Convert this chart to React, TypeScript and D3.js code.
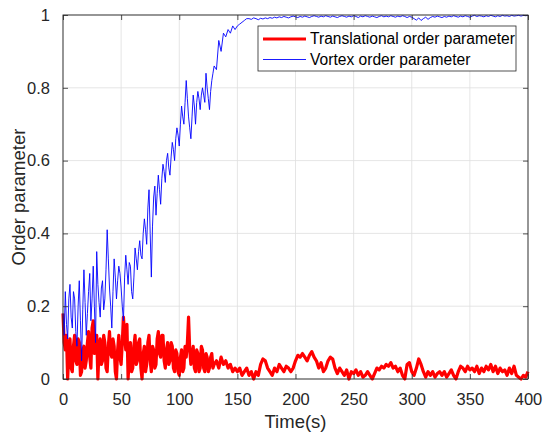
import * as d3 from 'd3';
import React, { useRef, useEffect } from 'react';

// early part sampled every 1 s (t = 0..130), later part every 2 s (t = 132..400)
const earlyStep = 1;
const lateStart = 132;
const lateStep = 2;

// translational order parameter
const translationalEarly = [
  0.18, 0.1, 0.08, 0.12, 0.0, 0.07, 0.11, 0.03, 0.02, 0.09,
  0.12, 0.05, 0.04, 0.11, 0.1, 0.01, 0.02, 0.08, 0.09, 0.03,
  0.05, 0.1, 0.13, 0.06, 0.03, 0.14, 0.16, 0.07, 0.1, 0.12,
  0.0, 0.08, 0.11, 0.04, 0.05, 0.12, 0.1, 0.03, 0.02, 0.09,
  0.13, 0.07, 0.06, 0.11, 0.09, 0.02, 0.0, 0.08, 0.12, 0.06,
  0.04, 0.1, 0.17, 0.12, 0.08, 0.15, 0.0, 0.06, 0.1, 0.02,
  0.03, 0.09, 0.12, 0.04, 0.05, 0.1, 0.11, 0.03, 0.0, 0.07,
  0.09, 0.02, 0.04, 0.1, 0.12, 0.05, 0.02, 0.09, 0.08, 0.03,
  0.04, 0.11, 0.13, 0.07, 0.06, 0.12, 0.12, 0.05, 0.03, 0.08,
  0.1, 0.04, 0.05, 0.1, 0.09, 0.03, 0.02, 0.08, 0.07, 0.02,
  0.01, 0.06, 0.08, 0.02, 0.03, 0.09, 0.06, 0.1, 0.17, 0.08,
  0.04, 0.07, 0.09, 0.03, 0.02, 0.08, 0.07, 0.02, 0.03, 0.09,
  0.08, 0.03, 0.02, 0.07, 0.06, 0.02, 0.03, 0.06, 0.07, 0.03,
  0.04,
];
const translationalLate = [
  0.05, 0.03, 0.06, 0.04,
  0.05, 0.03, 0.04, 0.02, 0.03, 0.02, 0.03, 0.01, 0.02, 0.03,
  0.01, 0.02, 0.0, 0.02, 0.01, 0.04, 0.055, 0.05, 0.03, 0.02,
  0.01, 0.03, 0.02, 0.04, 0.03, 0.02, 0.035, 0.03, 0.02, 0.03,
  0.05, 0.065, 0.06, 0.07, 0.06, 0.05, 0.065, 0.075, 0.06, 0.05,
  0.03, 0.045, 0.02, 0.03, 0.05, 0.06, 0.055, 0.03, 0.015, 0.03,
  0.02, 0.01, 0.025, 0.0, 0.02, 0.015, 0.025, 0.01, 0.02, 0.005,
  0.01, 0.02, 0.01, 0.0, 0.015, 0.03, 0.025, 0.035, 0.03, 0.04,
  0.035, 0.045, 0.03, 0.035, 0.02, 0.03, 0.01, 0.0, 0.04, 0.045,
  0.02, 0.01, 0.03, 0.055, 0.04, 0.02, 0.005, 0.02, 0.01, 0.02,
  0.005, 0.015, 0.02, 0.01, 0.02, 0.005, 0.015, 0.025, 0.01, 0.0,
  0.02, 0.035, 0.03, 0.02, 0.035, 0.025, 0.03, 0.02, 0.035, 0.015,
  0.03, 0.02, 0.035, 0.025, 0.04, 0.02, 0.035, 0.015, 0.03, 0.02,
  0.025, 0.01, 0.03, 0.015, 0.035, 0.01, 0.005, 0.0, 0.01, 0.005,
  0.02,
];

// vortex order parameter
const vortexEarly = [
  0.18, 0.12, 0.24, 0.15, 0.11, 0.22, 0.26, 0.17, 0.14, 0.24,
  0.22, 0.13, 0.09, 0.2, 0.27, 0.16, 0.05, 0.19, 0.3, 0.21,
  0.12, 0.18, 0.24, 0.29, 0.16, 0.22, 0.31, 0.2, 0.1, 0.35,
  0.26, 0.21, 0.17, 0.25, 0.27, 0.19, 0.22, 0.3, 0.41, 0.33,
  0.25, 0.2, 0.14, 0.24, 0.33, 0.28, 0.22, 0.27, 0.31, 0.29,
  0.25, 0.2, 0.16, 0.28, 0.34, 0.3, 0.26, 0.32, 0.31, 0.24,
  0.22, 0.28, 0.36, 0.33, 0.3, 0.35, 0.38, 0.34, 0.33, 0.4,
  0.44, 0.41, 0.37, 0.47, 0.52, 0.4, 0.28, 0.42, 0.5, 0.53,
  0.45, 0.51, 0.56, 0.52, 0.48, 0.55, 0.59, 0.57, 0.54, 0.6,
  0.62, 0.58, 0.56, 0.61, 0.65, 0.63, 0.6, 0.66, 0.69, 0.67,
  0.64, 0.7, 0.75, 0.72, 0.7, 0.76, 0.82, 0.77, 0.72, 0.69,
  0.66, 0.72, 0.78, 0.75, 0.7, 0.76, 0.79, 0.77, 0.74, 0.78,
  0.8, 0.78, 0.76, 0.84, 0.8, 0.77, 0.74, 0.79, 0.82, 0.84,
  0.86,
];
const vortexLate = [
  0.85, 0.93, 0.9, 0.95,
  0.94, 0.96, 0.95, 0.97, 0.96, 0.97, 0.975, 0.98, 0.985, 0.99,
  0.99, 0.988, 0.992, 0.99, 0.987, 0.991, 0.989, 0.992, 0.99, 0.993,
  0.991, 0.994, 0.992, 0.995, 0.993, 0.996, 0.994, 0.992, 0.995, 0.997,
  0.995, 0.993, 0.996, 0.994, 0.997, 0.995, 0.993, 0.996, 0.998, 0.996,
  0.994, 0.997, 0.995, 0.998, 0.996, 0.994, 0.997, 0.995, 0.993, 0.996,
  0.998, 0.996, 0.994, 0.997, 0.995, 0.998, 0.996, 0.993, 0.997, 0.995,
  0.998, 0.996, 0.994, 0.997, 0.995, 0.993, 0.996, 0.998, 0.995, 0.997,
  0.995, 0.998, 0.996, 0.994, 0.997, 0.995, 0.998, 0.996, 0.993, 0.996,
  0.994, 0.99, 0.986, 0.992, 0.985, 0.99, 0.994, 0.988, 0.993, 0.996,
  0.994, 0.997, 0.995, 0.993, 0.996, 0.994, 0.997, 0.995, 0.998, 0.996,
  0.994, 0.997, 0.995, 0.998, 0.996, 0.994, 0.997, 0.999, 0.996, 0.998,
  0.997, 0.995, 0.998, 0.996, 0.999, 0.997, 0.995, 0.998, 0.996, 0.999,
  0.997, 0.998, 0.996, 0.999, 0.997, 0.998, 0.999, 0.997, 0.999, 0.998,
  0.999,
];

const xTicks = [0, 50, 100, 150, 200, 250, 300, 350, 400];
const yTicks = [0, 0.2, 0.4, 0.6, 0.8, 1];
const seriesNames = ['Translational order parameter', 'Vortex order parameter'];

const toPoints = (early: number[], late: number[]): [number, number][] => [
  ...early.map((v, i) => [i * earlyStep, v] as [number, number]),
  ...late.map((v, i) => [lateStart + i * lateStep, v] as [number, number]),
];

const App: React.FC = () => {
  const svgRef = useRef<SVGSVGElement | null>(null);

  useEffect(() => {
    const width = 550;
    const height = 436;
    const l = 63;
    const r = 22;
    const t = 15;
    const b = 57;
    const w = width - l - r;
    const h = height - t - b;
    const font = '"Liberation Sans", Arial, sans-serif';
    const axisColor = '#262626';

    const svg = d3.select(svgRef.current).attr('width', width).attr('height', height);
    svg.selectAll('*').remove();

    svg.append('rect').attr('width', width).attr('height', height).attr('fill', '#fff');

    const x = d3.scaleLinear().domain([0, 400]).range([0, w]);
    const y = d3.scaleLinear().domain([0, 1]).range([h, 0]);

    const g = svg.append('g').attr('transform', `translate(${l},${t})`);

    // grid
    g.append('g')
      .selectAll('line')
      .data(xTicks)
      .join('line')
      .attr('x1', (d) => x(d))
      .attr('x2', (d) => x(d))
      .attr('y1', 0)
      .attr('y2', h)
      .attr('stroke', '#dedede')
      .attr('stroke-width', 0.8);
    g.append('g')
      .selectAll('line')
      .data(yTicks)
      .join('line')
      .attr('x1', 0)
      .attr('x2', w)
      .attr('y1', (d) => y(d))
      .attr('y2', (d) => y(d))
      .attr('stroke', '#dedede')
      .attr('stroke-width', 0.8);

    const line = d3
      .line<[number, number]>()
      .x((d) => x(d[0]))
      .y((d) => y(d[1]));

    g.append('path')
      .datum(toPoints(translationalEarly, translationalLate))
      .attr('fill', 'none')
      .attr('stroke', '#ff0000')
      .attr('stroke-width', 3.2)
      .attr('stroke-linejoin', 'round')
      .attr('d', line);

    g.append('path')
      .datum(toPoints(vortexEarly, vortexLate))
      .attr('fill', 'none')
      .attr('stroke', '#0000ff')
      .attr('stroke-width', 0.9)
      .attr('d', line);

    // axes, MATLAB style: ticks inside on all four sides
    const styleAxis = (sel: d3.Selection<SVGGElement, unknown, null, undefined>) => {
      sel.select('.domain').remove();
      sel.selectAll('line').attr('stroke', axisColor).attr('stroke-width', 0.8);
      sel.selectAll('text').attr('fill', axisColor).style('font-family', font).style('font-size', '16.5px');
    };

    g.append('g')
      .attr('transform', `translate(0,${h})`)
      .call(d3.axisBottom(x).tickValues(xTicks).tickSize(-5).tickPadding(14))
      .call(styleAxis);
    g.append('g')
      .call(d3.axisTop(x).tickValues(xTicks).tickSize(-5).tickFormat(() => ''))
      .call(styleAxis);
    g.append('g')
      .call(d3.axisLeft(y).tickValues(yTicks).tickSize(-5).tickPadding(13).tickFormat(d3.format('~g')))
      .call(styleAxis);
    g.append('g')
      .attr('transform', `translate(${w},0)`)
      .call(d3.axisRight(y).tickValues(yTicks).tickSize(-5).tickFormat(() => ''))
      .call(styleAxis);

    g.append('rect')
      .attr('width', w)
      .attr('height', h)
      .attr('fill', 'none')
      .attr('stroke', axisColor)
      .attr('stroke-width', 0.9);

    // axis labels
    svg.append('text')
      .attr('x', l + w / 2)
      .attr('y', 428)
      .attr('text-anchor', 'middle')
      .attr('fill', axisColor)
      .style('font-family', font)
      .style('font-size', '18.5px')
      .text('Time(s)');
    svg.append('text')
      .attr('transform', `translate(25,${t + h / 2}) rotate(-90)`)
      .attr('text-anchor', 'middle')
      .attr('fill', axisColor)
      .style('font-family', font)
      .style('font-size', '18.5px')
      .text('Order parameter');

    // legend
    const lg = svg.append('g').attr('transform', 'translate(258,26)');
    lg.append('rect')
      .attr('width', 258)
      .attr('height', 45)
      .attr('fill', '#fff')
      .attr('stroke', axisColor)
      .attr('stroke-width', 0.8);
    const colors = ['#ff0000', '#0000ff'];
    const widths = [3.2, 0.9];
    seriesNames.forEach((name, i) => {
      const cy = 13 + i * 20.5;
      lg.append('line')
        .attr('x1', 5)
        .attr('x2', 48)
        .attr('y1', cy)
        .attr('y2', cy)
        .attr('stroke', colors[i])
        .attr('stroke-width', widths[i]);
      lg.append('text')
        .attr('x', 52)
        .attr('y', cy)
        .attr('dy', '0.35em')
        .attr('fill', '#000')
        .style('font-family', font)
        .style('font-size', '15.6px')
        .text(name);
    });
  }, []);

  return <svg ref={svgRef} style={{ position: 'absolute', left: 0, top: 0 }}></svg>;
};

export default App;
